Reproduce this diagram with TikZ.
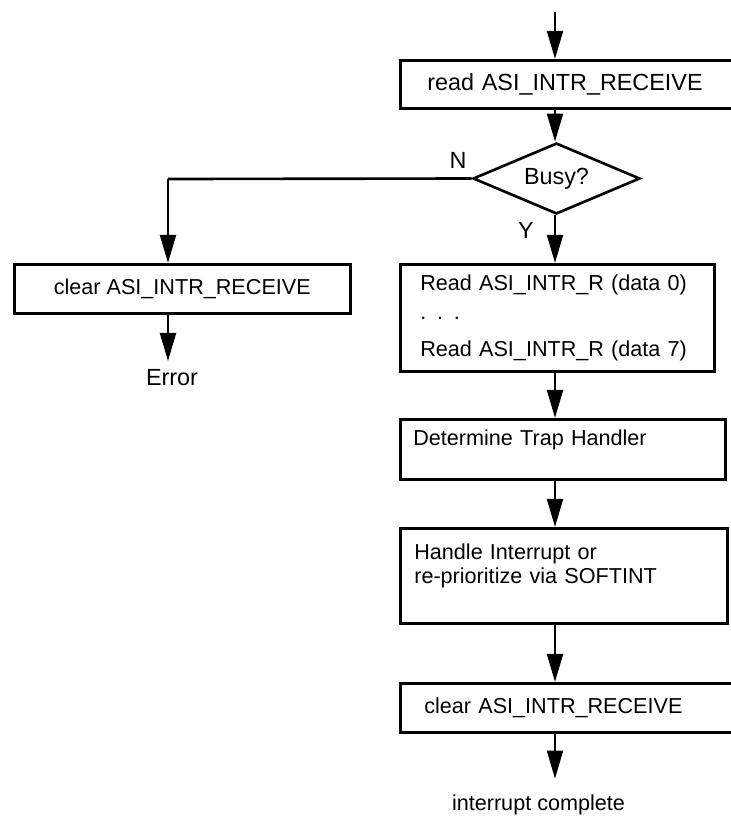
\documentclass[tikz,border=0pt]{standalone}
\usepackage{fontspec}
\setmainfont{Liberation Sans}
\usetikzlibrary{arrows.meta, positioning, shapes.geometric}
\tikzset{big/.style={font=\fontsize{13.3}{15}\selectfont}}
\tikzset{small/.style={font=\fontsize{12.3}{13.6}\selectfont}}
\tikzset{stepbox/.style={draw=black, line width=1.5pt, rectangle, inner sep=0pt, anchor=north west}}
\tikzset{flow/.style={draw=black, line width=1.5pt, -{Triangle[length=16pt, width=9pt]}}}

\begin{document}
\begin{tikzpicture}[x=0.02cm, y=-0.02cm]
  \useasboundingbox (0,0) rectangle (731,816);
  \clip (0,0) rectangle (731,816);
  %Nodes
  \coordinate (entry) at (555,12);
  \node[stepbox, big, align=left, text width=6.6cm, inner xsep=0.54cm, minimum height=0.96cm] (rd) at (399,59) {read ASI\_INTR\_RECEIVE};
  \node[diamond, draw=black, line width=1.5pt, big, inner sep=0pt, aspect=2.35,
        minimum width=3.34cm, minimum height=1.42cm] (busy) at (556.5,178.5) {Busy?};
  \node[big] (nlab) at (458,160) {N};
  \node[big] (ylab) at (526,230) {Y};
  \coordinate (ncol) at (168,179);
  \node[stepbox, small, minimum width=6.72cm, minimum height=0.98cm] (clrl) at (13,263) {clear ASI\_INTR\_RECEIVE};
  \node[big, inner sep=0pt] (err) at (172,377.5) {Error};
  \node[stepbox, small, align=left, text width=5.48cm, inner xsep=0.4cm, minimum height=2.14cm] (data) at (399,263)
    {Read ASI\_INTR\_R (data 0)\\[2.8pt]. . .\\[7.4pt]Read ASI\_INTR\_R (data 7)};
  \node[stepbox, small, align=left, text width=5.98cm, inner xsep=0.26cm, minimum height=1.2cm] (trap) at (399,418)
    {Determine Trap Handler\\\mbox{}};
  \node[stepbox, small, align=left, text width=5.98cm, inner xsep=0.28cm, minimum height=1.9cm] (hdl) at (399,527)
    {Handle Interrupt or\\re-prioritize via SOFTINT\\\mbox{}};
  \node[stepbox, small, align=left, text width=6.6cm, inner xsep=0.48cm, minimum height=0.98cm] (clrr) at (399,682)
    {clear ASI\_INTR\_RECEIVE};
  \node[small, inner sep=0pt] (done) at (538.5,805) {interrupt complete};
  % Edges
  \draw[flow] (entry) -- (rd.north -| entry);
  \draw[flow] (rd.south -| entry) -- (busy.north -| entry);
  \draw[line width=1.5pt] (busy.west) -- (ncol);
  \draw[flow] (ncol) -- (ncol |- clrl.north);
  \draw[flow, shorten >=4.5pt] (ncol |- clrl.south) -- (ncol |- err.north);
  \draw[flow] (busy.south -| entry) -- (data.north -| entry);
  \draw[flow] (data.south -| entry) -- (trap.north -| entry);
  \draw[flow] (trap.south -| entry) -- (hdl.north -| entry);
  \draw[flow] (hdl.south -| entry) -- (clrr.north -| entry);
  \draw[flow, shorten >=9pt] (clrr.south -| entry) -- (done.north -| entry);
\end{tikzpicture}
\end{document}
